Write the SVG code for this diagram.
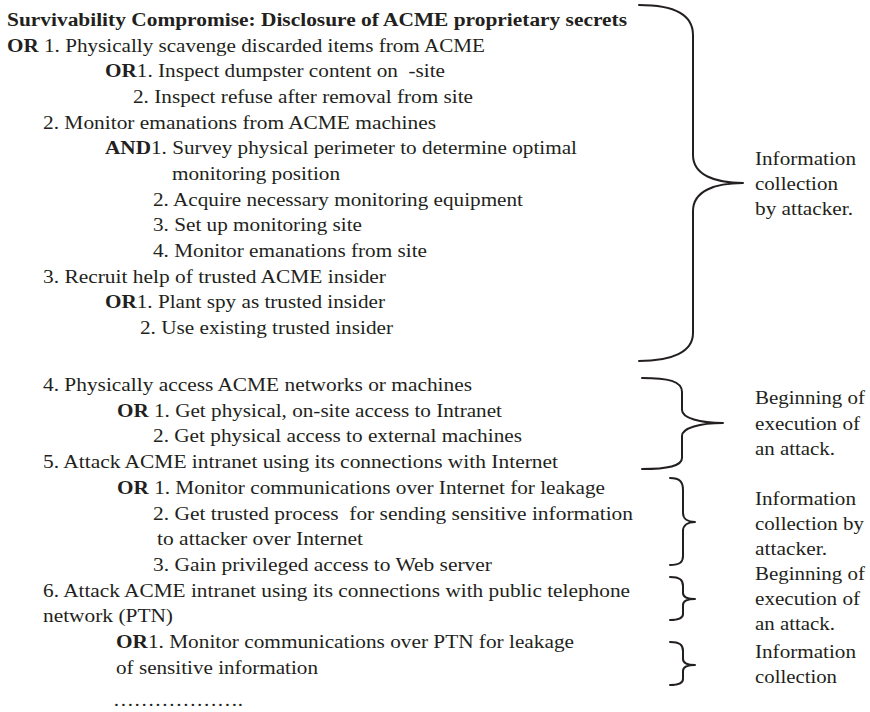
<svg xmlns="http://www.w3.org/2000/svg" width="870" height="712" viewBox="0 0 870 712">
  <style>
    text { font-family: Liberation Serif, serif; font-size: 18.5px; fill: #231f20; white-space: pre; }
    .b { font-weight: bold; }
    .brace { fill: none; stroke: #231f20; stroke-width: 2; stroke-linecap: round; stroke-linejoin: round; }
  </style>
  <rect width="870" height="712" fill="#ffffff"/>

  <!-- attack tree outline -->
  <g id="goal">
    <text class="b" x="7" y="26" textLength="620" lengthAdjust="spacingAndGlyphs">Survivability Compromise: Disclosure of ACME proprietary secrets</text>
  </g>

  <g id="step-1">
    <text x="7" y="51.7" textLength="478" lengthAdjust="spacingAndGlyphs"><tspan class="b">OR</tspan> 1. Physically scavenge discarded items from ACME</text>
    <text x="105" y="77.4" textLength="340" lengthAdjust="spacingAndGlyphs"><tspan class="b">OR</tspan>1. Inspect dumpster content on  -site</text>
    <text x="133" y="103" textLength="340" lengthAdjust="spacingAndGlyphs">2. Inspect refuse after removal from site</text>
  </g>

  <g id="step-2">
    <text x="43" y="128.7" textLength="393" lengthAdjust="spacingAndGlyphs">2. Monitor emanations from ACME machines</text>
    <text x="105" y="154.3" textLength="472" lengthAdjust="spacingAndGlyphs"><tspan class="b">AND</tspan>1. Survey physical perimeter to determine optimal</text>
    <text x="172" y="180" textLength="168" lengthAdjust="spacingAndGlyphs">monitoring position</text>
    <text x="153" y="205.7" textLength="370" lengthAdjust="spacingAndGlyphs">2. Acquire necessary monitoring equipment</text>
    <text x="153" y="231.4" textLength="209" lengthAdjust="spacingAndGlyphs">3. Set up monitoring site</text>
    <text x="153" y="257" textLength="274" lengthAdjust="spacingAndGlyphs">4. Monitor emanations from site</text>
  </g>

  <g id="step-3">
    <text x="43" y="282.7" textLength="343" lengthAdjust="spacingAndGlyphs">3. Recruit help of trusted ACME insider</text>
    <text x="105" y="308.4" textLength="280" lengthAdjust="spacingAndGlyphs"><tspan class="b">OR</tspan>1. Plant spy as trusted insider</text>
    <text x="140" y="334" textLength="253" lengthAdjust="spacingAndGlyphs">2. Use existing trusted insider</text>
  </g>

  <g id="step-4">
    <text x="43" y="391" textLength="429" lengthAdjust="spacingAndGlyphs">4. Physically access ACME networks or machines</text>
    <text x="117" y="416.7" textLength="385" lengthAdjust="spacingAndGlyphs"><tspan class="b">OR</tspan> 1. Get physical, on-site access to Intranet</text>
    <text x="153" y="442.4" textLength="369" lengthAdjust="spacingAndGlyphs">2. Get physical access to external machines</text>
  </g>

  <g id="step-5">
    <text x="43" y="468" textLength="515" lengthAdjust="spacingAndGlyphs">5. Attack ACME intranet using its connections with Internet</text>
    <text x="117" y="493.8" textLength="488" lengthAdjust="spacingAndGlyphs"><tspan class="b">OR</tspan> 1. Monitor communications over Internet for leakage</text>
    <text x="153" y="519.5" textLength="480" lengthAdjust="spacingAndGlyphs">2. Get trusted process  for sending sensitive information</text>
    <text x="157" y="545.2" textLength="206" lengthAdjust="spacingAndGlyphs">to attacker over Internet</text>
    <text x="153" y="571" textLength="339" lengthAdjust="spacingAndGlyphs">3. Gain privileged access to Web server</text>
  </g>

  <g id="step-6">
    <text x="43" y="596.6" textLength="587" lengthAdjust="spacingAndGlyphs">6. Attack ACME intranet using its connections with public telephone</text>
    <text x="43" y="622.3" textLength="130" lengthAdjust="spacingAndGlyphs">network (PTN)</text>
    <text x="116" y="648" textLength="458" lengthAdjust="spacingAndGlyphs"><tspan class="b">OR</tspan>1. Monitor communications over PTN for leakage</text>
    <text x="116" y="673.7" textLength="202" lengthAdjust="spacingAndGlyphs">of sensitive information</text>
    <text x="113" y="706" textLength="130" lengthAdjust="spacingAndGlyphs">……………….</text>
  </g>

  <!-- braces grouping the steps into phases -->
  <g id="braces">
    <path class="brace" d="M639,5 C672,5 693,14 693,35 L693,155 C693,175 715,183 743,183 C715,183 693,191 693,211 L693,333 C693,352 672,361 639,361"/>
    <path class="brace" d="M642,378 C668,378 682,381 682,392 L682,410 C682,418 700,423 723,423 C700,423 682,428 682,436 L682,458 C682,466 668,469 642,469"/>
    <path class="brace" d="M670,478 C680,478 683,482 683,490 L683,513 C683,519 688,522 695,522 C688,522 683,525 683,531 L683,556 C683,562 680,565 670,565"/>
    <path class="brace" d="M670,577 C680,577 683,580 683,586 L683,593 C683,597 688,599 695,599 C688,599 683,601 683,605 L683,614 C683,618 680,620 670,620"/>
    <path class="brace" d="M670,642 C680,642 683,645 683,651 L683,659 C683,663 688,665 695,665 C688,665 683,667 683,671 L683,679 C683,683 680,685 670,685"/>
  </g>

  <!-- phase labels -->
  <g id="phase-1">
    <text x="755" y="165" textLength="101" lengthAdjust="spacingAndGlyphs">Information</text>
    <text x="755" y="190" textLength="83" lengthAdjust="spacingAndGlyphs">collection</text>
    <text x="755" y="215" textLength="98" lengthAdjust="spacingAndGlyphs">by attacker.</text>
  </g>
  <g id="phase-2">
    <text x="755" y="404" textLength="110" lengthAdjust="spacingAndGlyphs">Beginning of</text>
    <text x="755" y="430" textLength="105" lengthAdjust="spacingAndGlyphs">execution of</text>
    <text x="755" y="455" textLength="80" lengthAdjust="spacingAndGlyphs">an attack.</text>
  </g>
  <g id="phase-3">
    <text x="755" y="505" textLength="101" lengthAdjust="spacingAndGlyphs">Information</text>
    <text x="755" y="530" textLength="109" lengthAdjust="spacingAndGlyphs">collection by</text>
    <text x="755" y="555" textLength="72" lengthAdjust="spacingAndGlyphs">attacker.</text>
  </g>
  <g id="phase-4">
    <text x="755" y="580" textLength="110" lengthAdjust="spacingAndGlyphs">Beginning of</text>
    <text x="755" y="605" textLength="105" lengthAdjust="spacingAndGlyphs">execution of</text>
    <text x="755" y="630" textLength="80" lengthAdjust="spacingAndGlyphs">an attack.</text>
  </g>
  <g id="phase-5">
    <text x="755" y="658" textLength="101" lengthAdjust="spacingAndGlyphs">Information</text>
    <text x="755" y="683" textLength="82" lengthAdjust="spacingAndGlyphs">collection</text>
  </g>
</svg>
